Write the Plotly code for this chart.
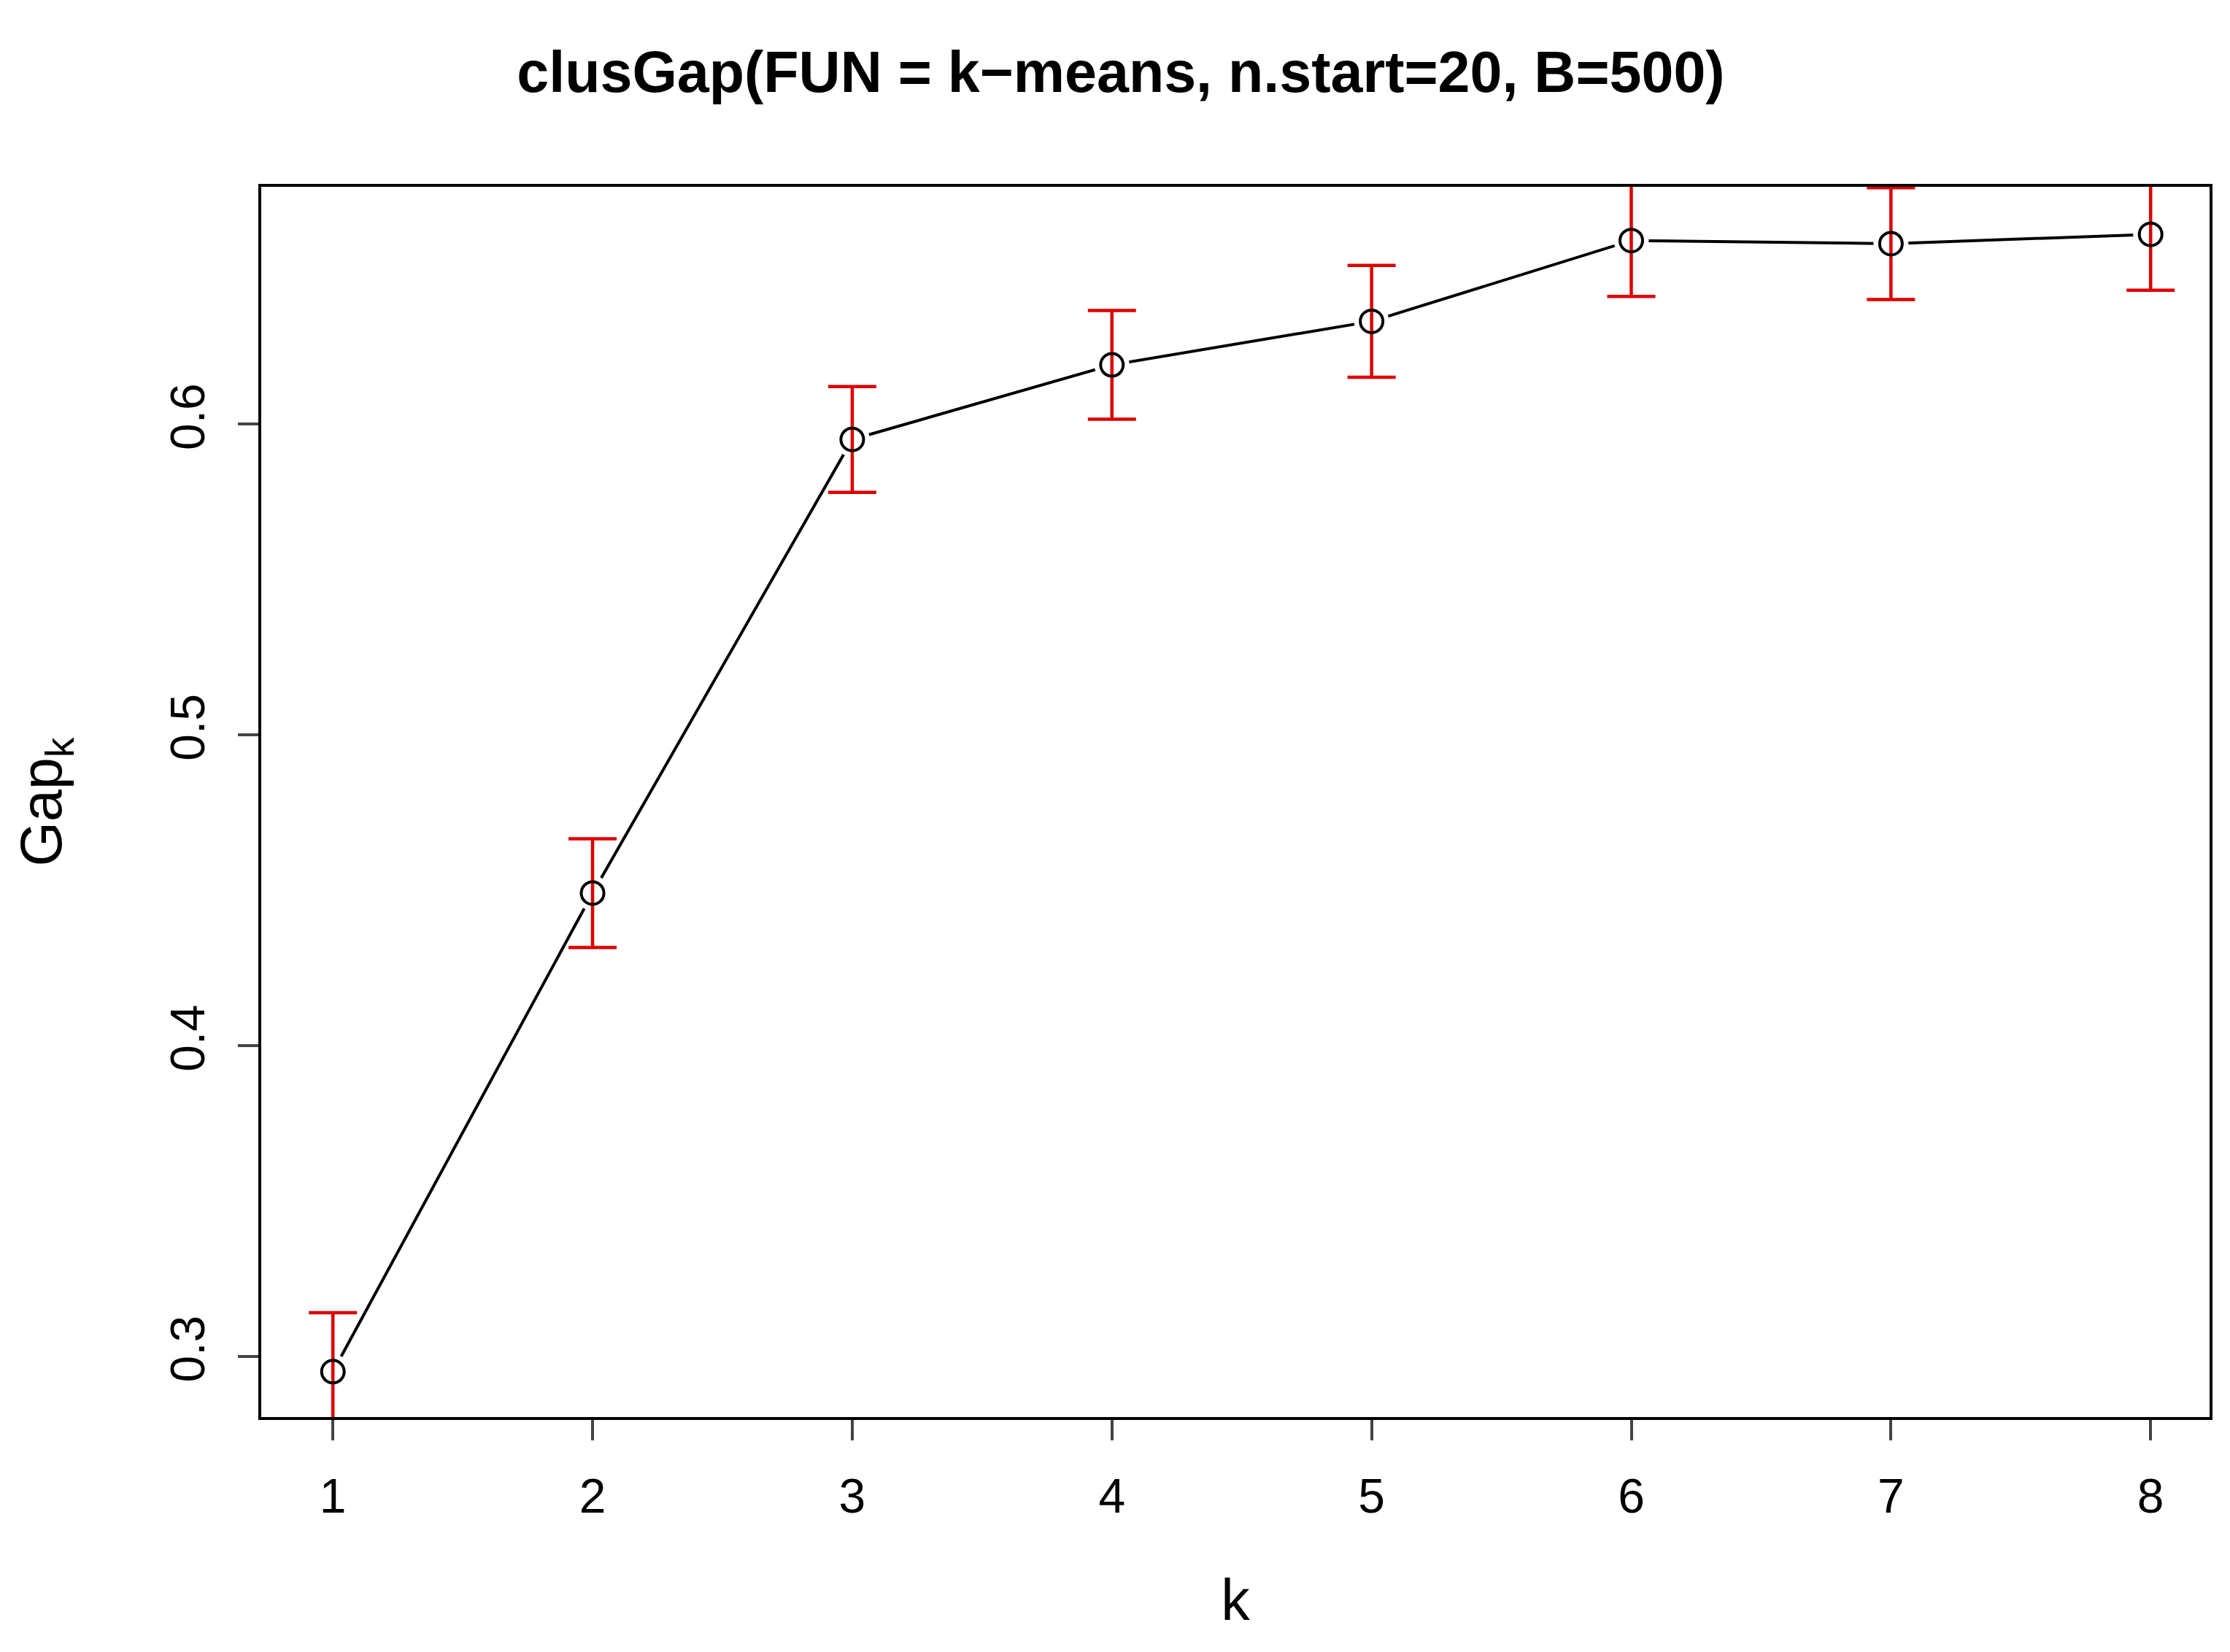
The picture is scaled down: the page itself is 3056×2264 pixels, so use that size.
import plotly.graph_objects as go

k = [1, 2, 3, 4, 5, 6, 7, 8]
gap = [0.295, 0.449, 0.595, 0.619, 0.633, 0.659, 0.658, 0.661]
se = [0.019, 0.0175, 0.017, 0.0175, 0.018, 0.018, 0.018, 0.018]
xticks = [1, 2, 3, 4, 5, 6, 7, 8]
yticks = [0.3, 0.4, 0.5, 0.6]

W, H = 3056, 2264
L, R, T, B = 350, 36, 248, 330
fig = go.Figure()
fig.add_trace(go.Scatter(x=k, y=gap, mode="lines", line=dict(color="black", width=4),
                         showlegend=False, hoverinfo="skip"))
fig.add_trace(go.Scatter(x=k, y=gap, mode="markers",
                         marker=dict(symbol="circle", size=48, color="white", line=dict(width=0)),
                         showlegend=False, hoverinfo="skip"))
fig.add_trace(go.Scatter(x=k, y=gap, mode="markers",
                         marker=dict(symbol="circle-open", size=31, color="black", line=dict(width=4, color="black")),
                         error_y=dict(type="data", array=se, visible=True, color="#dd0000", thickness=4.5, width=33),
                         showlegend=False))
fig.update_layout(
    width=W, height=H, plot_bgcolor="white", paper_bgcolor="white",
    margin=dict(l=L, r=R, t=T, b=B),
    font=dict(family="Liberation Sans, Arial, sans-serif", color="black", size=66),
    title=dict(text="<b>clusGap(FUN = k−means, n.start=20, B=500)</b>", x=0.5, xanchor="center",
               y=1 - 90 / H, yanchor="middle", font=dict(size=79)),
)
fig.update_xaxes(range=[0.724, 8.227], tickvals=xticks, ticks="outside", ticklen=28, tickwidth=3.5,
                 ticklabelstandoff=20,
                 showgrid=False, zeroline=False, showline=True, linewidth=3.5, linecolor="black", mirror=True,
                 title=dict(text="k", standoff=80))
fig.update_yaxes(range=[0.2804, 0.6763], tickvals=yticks, ticktext=["0.3", "0.4", "0.5", "0.6"],
                 tickangle=-90, ticks="outside", ticklen=28, tickwidth=3.5, ticklabelstandoff=20,
                 showgrid=False, zeroline=False, showline=True, linewidth=3.5, linecolor="black", mirror=True,
                 title=dict(text="Gap<sub>k</sub>", standoff=110))
fig.write_html("out.html")
